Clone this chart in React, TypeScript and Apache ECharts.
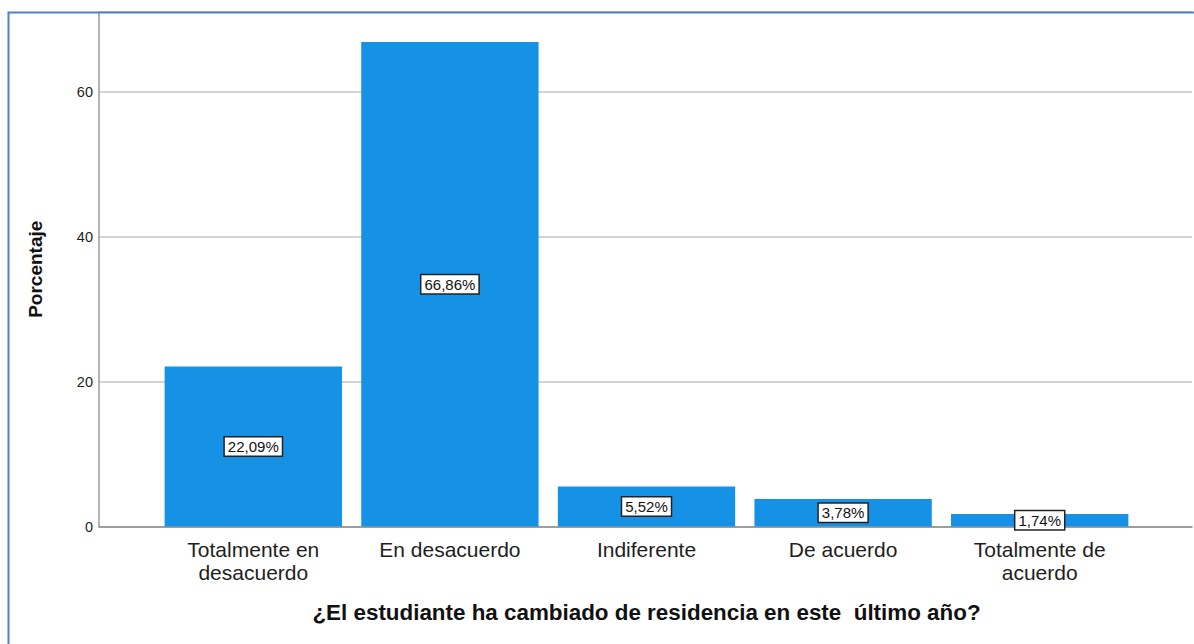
import React, { useEffect, useRef } from "react";
import * as echarts from "echarts";

const categories = [
  "Totalmente en\ndesacuerdo",
  "En desacuerdo",
  "Indiferente",
  "De acuerdo",
  "Totalmente de\nacuerdo",
];
const percentages = [22.09, 66.86, 5.52, 3.78, 1.74];
const yTicks = [0, 20, 40, 60];
const yMax = 71;
const xTitle = "¿El estudiante ha cambiado de residencia en este  último año?";
const yTitle = "Porcentaje";

const FONT = "Liberation Sans, Arial, sans-serif";

export default function App() {
  const ref = useRef<HTMLDivElement>(null);
  useEffect(() => {
    if (!ref.current) return;
    const chart = echarts.init(ref.current, undefined, { renderer: "svg" });
    const top = 12;
    const bottom = 117.5;
    chart.setOption({
      animation: false,
      textStyle: { fontFamily: FONT },
      grid: [
        { left: 99, right: 2, top, bottom },
        { left: 155, right: 56, top, bottom },
      ],
      xAxis: [
        {
          gridIndex: 0,
          type: "category",
          data: [""],
          axisLine: { show: true, lineStyle: { color: "#8c8c8c", width: 1.5 } },
          axisTick: { show: false },
          axisLabel: { show: false },
          splitLine: { show: false },
        },
        {
          gridIndex: 1,
          type: "category",
          data: categories,
          axisLine: { show: false },
          axisTick: { show: false },
          axisLabel: {
            color: "#1e1e1e",
            fontSize: 21,
            lineHeight: 23,
            margin: 11,
            fontFamily: FONT,
            interval: 0,
          },
          name: xTitle,
          nameLocation: "middle",
          nameGap: 86,
          nameTextStyle: {
            color: "#111",
            fontSize: 22.4,
            fontWeight: "bold",
            fontFamily: FONT,
            verticalAlign: "middle",
          },
        },
      ],
      yAxis: [
        {
          gridIndex: 0,
          type: "value",
          min: 0,
          max: yMax,
          interval: 20,
          axisLine: { show: true, lineStyle: { color: "#9a9a9a", width: 1.5 } },
          axisTick: { show: false },
          splitLine: { show: true, lineStyle: { color: "#c4c4c4", width: 1.5 } },
          axisLabel: {
            color: "#1e1e1e",
            fontSize: 14.5,
            margin: 6,
            padding: [6, 0, 0, 0],
            fontFamily: FONT,
            formatter: (v: number) => (yTicks.includes(v) ? String(v) : ""),
            showMaxLabel: false,
          },
          name: yTitle,
          nameLocation: "middle",
          nameGap: 54,
          nameTextStyle: {
            color: "#111",
            fontSize: 19,
            fontWeight: "bold",
            fontFamily: FONT,
          },
        },
        {
          gridIndex: 1,
          type: "value",
          min: 0,
          max: yMax,
          show: false,
          splitLine: { show: false },
        },
      ],
      series: [
        {
          type: "bar",
          xAxisIndex: 1,
          yAxisIndex: 1,
          data: percentages,
          barCategoryGap: "9.8%",
          itemStyle: { color: "#1592e6" },
          label: {
            show: true,
            position: "inside",
            formatter: (p: any) => p.value.toFixed(2).replace(".", ",") + "%",
            color: "#111",
            fontSize: 15,
            lineHeight: 16,
            fontFamily: FONT,
            backgroundColor: "#ffffff",
            borderColor: "#222",
            borderWidth: 1.5,
            padding: [1, 3],
          },
        },
      ],
      graphic: [
        {
          type: "rect",
          shape: { x: 8.5, y: 12.5, width: 1300, height: 800 },
          style: { fill: "none", stroke: "#4f81c9", lineWidth: 2 },
          silent: true,
          z: 100,
        },
      ],
    });
    return () => chart.dispose();
  }, []);
  return (
    <div
      ref={ref}
      style={{ position: "absolute", left: 0, top: 0, width: 1194, height: 644, background: "#fff" }}
    />
  );
}
